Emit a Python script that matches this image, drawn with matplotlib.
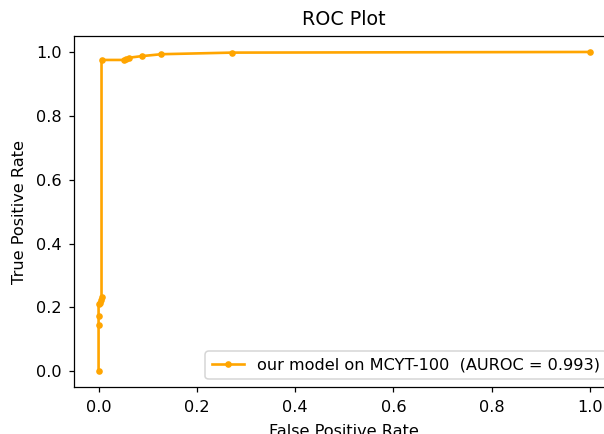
import matplotlib
matplotlib.use("Agg")
import matplotlib.pyplot as plt

fpr = [0.0, 0.0, 0.0, 0.0, 0.002, 0.004, 0.006, 0.006, 0.051, 0.056, 0.062, 0.088, 0.128, 0.272, 1.0]
tpr = [0.0, 0.146, 0.174, 0.21, 0.215, 0.222, 0.232, 0.975, 0.975, 0.978, 0.982, 0.987, 0.993, 0.998, 1.0]
label = "our model on MCYT-100  (AUROC = 0.993)"

plt.rcParams['font.size'] = 10.4
plt.rcParams['axes.titlesize'] = 12.2

dpi = 112
fig = plt.figure(figsize=(604 / dpi, 434 / dpi), dpi=dpi)
ax = fig.add_axes([74 / 604, (434 - 387.3) / 434, 540.6 / 604, 351.3 / 434])
ax.plot(fpr, tpr, marker='.', color='orange', label=label, linewidth=1.7, markersize=6.5)
ax.set_xlim(-0.05, 1.05)
ax.set_ylim(-0.05, 1.05)
ax.set_xticks([0.0, 0.2, 0.4, 0.6, 0.8, 1.0])
ax.set_yticks([0.0, 0.2, 0.4, 0.6, 0.8, 1.0])
ax.tick_params(pad=4.5)
ax.set_title("ROC Plot", pad=7)
ax.set_xlabel("False Positive Rate", labelpad=6)
ax.set_ylabel("True Positive Rate", labelpad=6)
ax.legend(loc='lower right')
fig.savefig("out.png", dpi=dpi)
